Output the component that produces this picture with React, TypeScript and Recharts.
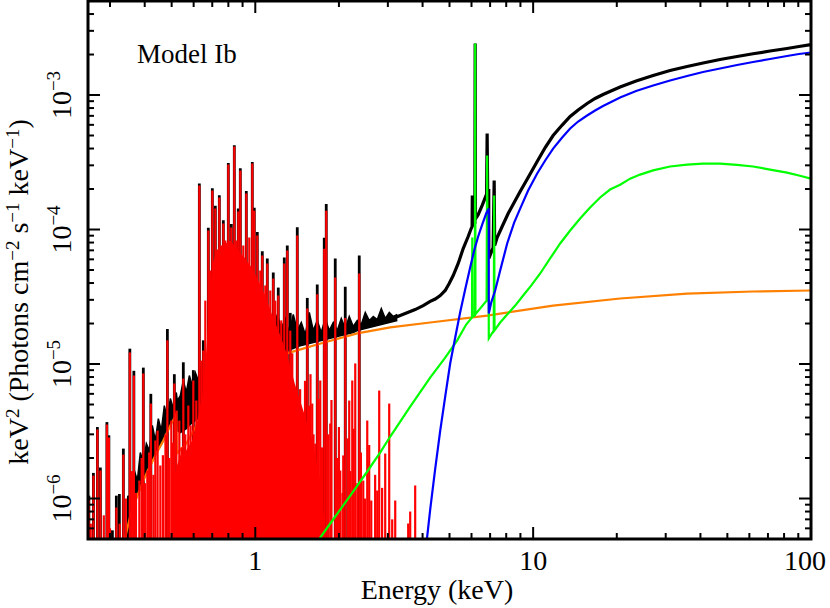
import React from "react";
import { ComposedChart, Line, Area, Scatter, XAxis, YAxis, ReferenceArea } from "recharts";

const W = 830;
const H = 608;
const PLOT_LEFT = 88;
const PLOT_TOP = 1;
const PLOT_RIGHT = 811;
const PLOT_BOTTOM = 539;
const SERIF = "'Liberation Serif', 'Times New Roman', Times, serif";

const X_DOMAIN = [0.25, 100];
const Y_DOMAIN = [5e-7, 5e-3];

const xMajor = [1, 10, 100];
const xMajorLabels = ["1", "10", "100"];
const xMinor = [0.3, 0.4, 0.5, 0.6, 0.7, 0.8, 0.9, 2, 3, 4, 5, 6, 7, 8, 9, 20, 30, 40, 50, 60, 70, 80, 90];
const yMajor = [1e-6, 1e-5, 1e-4, 1e-3];
const yMajorExp = ["\u22126", "\u22125", "\u22124", "\u22123"];
const yMinor = [
  6e-7, 7e-7, 8e-7, 9e-7, 2e-6, 3e-6, 4e-6, 5e-6, 6e-6, 7e-6, 8e-6, 9e-6,
  2e-5, 3e-5, 4e-5, 5e-5, 6e-5, 7e-5, 8e-5, 9e-5, 2e-4, 3e-4, 4e-4, 5e-4,
  6e-4, 7e-4, 8e-4, 9e-4, 2e-3, 3e-3, 4e-3,
];

// total model, continuum above ~3 keV (with the Fe K features)
const blackCurve: [number, number][] = [
  [3.0362, 2.16e-5], [3.1385, 2.18e-5], [3.189, 2.22e-5], [3.463, 2.37e-5], [3.762, 2.54e-5],
  [4.021, 2.72e-5], [4.26, 2.92e-5], [4.442, 3.04e-5], [4.63, 3.23e-5], [4.825, 3.52e-5],
  [4.987, 3.97e-5], [5.156, 4.55e-5], [5.373, 5.59e-5], [5.601, 7.22e-5], [5.837, 8.87e-5],
  [5.984, 1.017e-4], [6.03, 1.05e-4], [6.04, 1.79e-4], [6.055, 1.07e-4], [6.17, 1.12e-4],
  [6.186, 2.415e-3], [6.2, 1.2e-4], [6.341, 1.29e-4], [6.555, 1.51e-4], [6.8, 1.83e-4],
  [6.83, 5.17e-4], [6.86, 1.95e-4], [6.92, 1.95e-4], [6.925, 6.09e-5], [7.18, 7.35e-5],
  [7.24, 2.31e-4], [7.27, 7.6e-5], [7.42, 8.72e-5], [7.735, 1.053e-4], [8.13, 1.315e-4],
  [8.544, 1.588e-4], [8.98, 1.916e-4], [9.594, 2.435e-4], [10.34, 3.2e-4], [11.05, 4.07e-4],
  [11.8, 5.0e-4], [12.72, 5.98e-4], [13.59, 6.92e-4], [14.52, 7.74e-4], [15.64, 8.65e-4],
  [16.71, 9.42e-4], [17.85, 1.0085e-3], [19.24, 1.08e-3], [20.56, 1.147e-3], [23.47, 1.271e-3],
  [27.03, 1.396e-3], [31.1, 1.521e-3], [35.81, 1.629e-3], [40.88, 1.729e-3], [47.07, 1.836e-3],
  [54.19, 1.933e-3], [61.86, 2.025e-3], [71.23, 2.123e-3], [81.97, 2.217e-3], [90.5, 2.294e-3],
  [100, 2.373e-3],
];

// total model, band of weak lines below ~3 keV: [E, low, high]
const blackBand: [number, number, number][] = [
  [0.3493, 6.3e-7, 1.05e-6], [0.3581, 7.87e-7, 8.87e-7], [0.367, 9.18e-7, 1.615e-6],
  [0.3763, 1.05e-6, 1.36e-6], [0.3857, 1.186e-6, 2.2e-6], [0.3954, 1.36e-6, 1.85e-6],
  [0.4054, 1.535e-6, 2.56e-6], [0.4156, 1.7e-6, 2.28e-6], [0.4261, 1.88e-6, 3.49e-6],
  [0.4368, 2.09e-6, 2.7e-6], [0.4478, 2.31e-6, 3.93e-6], [0.4591, 2.52e-6, 3.2e-6],
  [0.4706, 2.79e-6, 4.91e-6], [0.4826, 3.15e-6, 3.93e-6], [0.4946, 3.49e-6, 5.54e-6],
  [0.507, 3.87e-6, 4.67e-6], [0.5197, 4.21e-6, 6.14e-6], [0.524, 3.2e-6, 5.35e-6],
  [0.5373, 3.09e-6, 5.83e-6], [0.5508, 3.2e-6, 7.54e-6], [0.5647, 3.31e-6, 6.14e-6],
  [0.5789, 3.49e-6, 8.21e-6], [0.5935, 3.67e-6, 6.92e-6], [0.6084, 3.8e-6, 8.65e-6],
  [0.6237, 3.93e-6, 7.54e-6], [0.6395, 4.21e-6, 9.75e-6], [0.661, 4.67e-6, 8.21e-6],
  [0.689, 5.08e-6, 1.156e-5], [0.7181, 5.63e-6, 1.026e-5], [0.7484, 6.35e-6, 1.259e-5],
  [0.7997, 7.29e-6, 1.156e-5], [0.8471, 8.21e-6, 1.372e-5], [0.9205, 9.1e-6, 1.495e-5],
  [1.0, 1.062e-5, 1.629e-5], [1.0597, 1.117e-5, 1.774e-5], [1.1137, 1.156e-5, 2.035e-5],
  [1.1607, 1.176e-5, 1.714e-5], [1.1997, 1.217e-5, 2.333e-5], [1.2403, 1.238e-5, 1.836e-5],
  [1.2823, 1.259e-5, 2.18e-5], [1.3253, 1.281e-5, 1.714e-5], [1.37, 1.303e-5, 2.333e-5],
  [1.4162, 1.349e-5, 1.774e-5], [1.4641, 1.372e-5, 2.035e-5], [1.5136, 1.396e-5, 1.657e-5],
  [1.5647, 1.42e-5, 2.415e-5], [1.617, 1.445e-5, 1.774e-5], [1.6711, 1.47e-5, 2.106e-5],
  [1.7274, 1.495e-5, 1.714e-5], [1.7857, 1.521e-5, 2.18e-5], [1.846, 1.547e-5, 1.774e-5],
  [1.9083, 1.574e-5, 2.035e-5], [1.9727, 1.601e-5, 1.774e-5], [2.0393, 1.629e-5, 2.18e-5],
  [2.1077, 1.657e-5, 1.836e-5], [2.1788, 1.685e-5, 2.255e-5], [2.2522, 1.714e-5, 1.9e-5],
  [2.3283, 1.774e-5, 2.106e-5], [2.4068, 1.805e-5, 1.966e-5], [2.488, 1.836e-5, 2.415e-5],
  [2.5719, 1.868e-5, 2.106e-5], [2.6587, 1.9e-5, 2.255e-5], [2.7484, 1.933e-5, 2.143e-5],
  [2.8412, 1.966e-5, 2.585e-5], [2.937, 2.0e-5, 2.18e-5], [3.0362, 2.035e-5, 2.415e-5],
  [3.1385, 2.07e-5, 2.255e-5], [3.2444, 2.106e-5, 2.333e-5],
];

// total model, tops of the strong lines
const blackPeaks: [number, number][] = [
  [0.2518, 1.05e-6], [0.2615, 1.55e-6], [0.2702, 3.4e-6], [0.277, 1.7e-6], [0.2924, 3.7e-6],
  [0.2972, 2.95e-6], [0.306, 5.8e-7], [0.3162, 1.05e-6], [0.3242, 1.08e-6], [0.3351, 2.35e-6],
  [0.3493, 1.05e-6], [0.3536, 1.3e-5], [0.3656, 8.9e-6], [0.3954, 9.4e-6], [0.4208, 6.0e-6],
  [0.4826, 1.82e-5], [0.5113, 8.4e-6], [0.5508, 1.03e-5], [0.5984, 9.0e-6], [0.629, 2.2e-4],
  [0.6501, 1.5e-5], [0.6776, 1.03e-4], [0.7005, 2.03e-4], [0.7181, 1.5e-4], [0.7423, 1.8e-4],
  [0.7673, 1.17e-4], [0.7997, 3.12e-4], [0.8199, 1.1e-4], [0.8404, 4.24e-4], [0.8686, 1.43e-4],
  [0.8832, 2.85e-4], [0.9282, 1.93e-4], [0.9754, 3.18e-4], [0.9917, 1.45e-4], [1.0167, 9.6e-5],
  [1.0597, 6.9e-5], [1.1046, 6.1e-5], [1.1607, 4.8e-5], [1.2099, 3.7e-5], [1.2716, 6.2e-5],
  [1.3036, 7.6e-5], [1.3364, 2.4e-5], [1.4162, 1.04e-4], [1.5387, 3.1e-5], [1.6711, 3.9e-5],
  [1.7709, 8.7e-5], [1.8005, 1.55e-4], [1.9399, 6.1e-5], [2.1077, 3.75e-5], [2.3667, 6.4e-5],
];

// thermal plasma: emission lines
const redPeaks: [number, number][] = [
  [0.2518, 9.66e-7], [0.2557, 6.5e-7], [0.2615, 1.48e-6], [0.2702, 3.26e-6], [0.277, 1.615e-6],
  [0.285, 7.5e-7], [0.2924, 3.55e-6], [0.2972, 2.84e-6], [0.3, 6e-7], [0.3162, 8.57e-7],
  [0.325, 6.5e-7], [0.3351, 2.12e-6], [0.342, 1.0e-6], [0.3536, 1.22e-5], [0.36, 1.6e-6],
  [0.3656, 8.21e-6], [0.372, 1.1e-6], [0.3826, 1.36e-6], [0.39, 2.0e-6], [0.3954, 8.5e-6],
  [0.401, 1.3e-6], [0.4088, 1.615e-6], [0.415, 2.2e-6], [0.4208, 5.08e-6], [0.43, 1.5e-6],
  [0.4368, 2.7e-6], [0.445, 3.2e-6], [0.4553, 1.76e-6], [0.465, 2.1e-6], [0.475, 3.0e-6],
  [0.4826, 1.5e-5], [0.49, 2.0e-6], [0.4987, 3.8e-6], [0.505, 2.6e-6], [0.5113, 7.16e-6],
  [0.52, 4.5e-6], [0.5329, 3.8e-6], [0.543, 2.4e-6], [0.5508, 7.8e-6], [0.56, 3.0e-6],
  [0.5741, 4.91e-6], [0.585, 3.5e-6], [0.5984, 7.54e-6], [0.605, 2.8e-6], [0.6135, 5.35e-6],
  [0.629, 2.12e-4], [0.6395, 1.06e-5], [0.6501, 1.26e-5], [0.661, 2.96e-5], [0.6776, 9.83e-5],
  [0.689, 4.96e-5], [0.7005, 1.95e-4], [0.7181, 1.43e-4], [0.7301, 6.41e-5], [0.7423, 1.73e-4],
  [0.7547, 7.6e-5], [0.7673, 1.108e-4], [0.7801, 8.28e-5], [0.7997, 3.04e-4], [0.8199, 1.035e-4],
  [0.8404, 4.14e-4], [0.8545, 8.28e-5], [0.8686, 1.36e-4], [0.8832, 2.75e-4], [0.9054, 7.6e-5],
  [0.9282, 1.85e-4], [0.9515, 8.72e-5], [0.9754, 3.09e-4], [0.9917, 1.38e-4], [1.0167, 9.03e-5],
  [1.0423, 4.96e-5], [1.0597, 6.41e-5], [1.0864, 3.83e-5], [1.1046, 5.59e-5], [1.1324, 3.52e-5],
  [1.1607, 4.32e-5], [1.1802, 2.96e-5], [1.2099, 3.23e-5], [1.2403, 2.11e-5], [1.2716, 5.59e-5],
  [1.3036, 6.98e-5], [1.3364, 1.77e-5], [1.3587, 1.2e-5], [1.38, 7.0e-6], [1.4162, 9.03e-5],
  [1.428, 4.75e-6], [1.45, 6.5e-6], [1.47, 3.8e-6], [1.4884, 3.94e-6], [1.51, 7.5e-6],
  [1.5387, 2.59e-5], [1.56, 4.9e-6], [1.58, 8.4e-6], [1.603, 5.08e-6], [1.62, 3.0e-6],
  [1.6436, 2.56e-6], [1.6711, 3.3e-5], [1.69, 5.5e-6], [1.7132, 7.54e-6], [1.74, 2.4e-6],
  [1.7709, 7.2e-5], [1.8005, 1.38e-4], [1.83, 3.0e-6], [1.8612, 3.61e-6], [1.88, 5.4e-6],
  [1.9399, 4.4e-5], [1.97, 2.0e-6], [2.0, 3.4e-6], [2.0219, 1.615e-6], [2.06, 1.1e-6],
  [2.073, 2.09e-6], [2.1077, 2.2e-5], [2.15, 2.8e-6], [2.178, 5.35e-6], [2.2, 1.6e-6],
  [2.2336, 7.54e-6], [2.26, 3.3e-6], [2.2896, 1.01e-5], [2.33, 1.3e-6], [2.3667, 4.71e-5],
  [2.4, 2.2e-6], [2.4465, 1.36e-6], [2.48, 1.0e-6], [2.5289, 3.8e-6], [2.57, 2.5e-6],
  [2.6144, 9.66e-7], [2.7, 1.5e-6], [2.747, 1.147e-6], [2.7925, 6.35e-6], [2.86, 1.2e-6],
  [2.935, 2.16e-6], [3.0339, 5.08e-6], [3.11, 7e-7], [3.1887, 9.66e-7], [3.5506, 6.52e-7],
  [3.61, 8e-7], [3.7624, 1.25e-6],
];

// thermal plasma: blended line forest around 1 keV (upper edge)
const redFill: [number, number][] = [
  [0.5029, 4.87e-7], [0.5155, 1.615e-6], [0.5373, 2.09e-6], [0.5647, 2.28e-6], [0.5935, 2.7e-6],
  [0.6186, 3.8e-6], [0.6448, 5.83e-6], [0.6666, 1.26e-5], [0.6832, 2.96e-5], [0.7005, 5.4e-5],
  [0.7241, 6.98e-5], [0.7609, 7.6e-5], [0.813, 8.28e-5], [0.8686, 6.98e-5], [0.9205, 6.1e-5],
  [0.9754, 5.13e-5], [1.025, 4.18e-5], [1.0864, 3.23e-5], [1.151, 2.29e-5], [1.23, 1.63e-5],
  [1.3036, 1.16e-5], [1.393, 6.92e-6], [1.4884, 4.51e-6], [1.603, 2.7e-6], [1.7132, 1.36e-6],
  [1.8005, 4.87e-7],
];

const orangeCurve: [number, number][] = [
  [0.3351, 4.47e-7], [0.3551, 7.47e-7], [0.3763, 1.05e-6], [0.4054, 1.53e-6], [0.4368, 2.09e-6],
  [0.4667, 2.7e-6], [0.4946, 3.49e-6], [0.5197, 4.21e-6], [0.5219, 2.16e-6], [0.5646, 2.56e-6],
  [0.629, 3.8e-6], [0.6832, 4.91e-6], [0.7484, 6.35e-6], [0.8471, 8.21e-6], [1.0, 9.9e-6],
  [1.1802, 1.12e-5], [1.3364, 1.22e-5], [1.756, 1.44e-5], [2.328, 1.69e-5], [3.06, 1.87e-5],
  [4.2605, 2.035e-5], [6.8345, 2.29e-5], [11.8, 2.72e-5], [20.56, 3.07e-5], [35.81, 3.34e-5],
  [61.86, 3.46e-5], [100, 3.52e-5],
];

const greenCurve: [number, number][] = [
  [1.657, 4.47e-7], [1.7132, 5.13e-7], [1.8612, 6.52e-7], [2.0219, 8.28e-7], [2.2896, 1.186e-6],
  [2.5289, 1.588e-6], [2.817, 2.2e-6], [3.06, 2.89e-6], [3.61, 4.83e-6], [4.26, 7.93e-6],
  [4.825, 1.117e-5], [5.33, 1.5e-5], [5.741, 1.966e-5], [6.025, 2.22e-5], [6.04, 8.72e-5],
  [6.055, 2.24e-5], [6.17, 2.3e-5], [6.186, 2.415e-3], [6.2, 2.35e-5], [6.8, 2.96e-5],
  [6.83, 3.55e-4], [6.86, 2.96e-5], [6.92, 2.96e-5], [6.925, 1.55e-5], [7.216, 1.774e-5],
  [7.24, 1.79e-4], [7.26, 1.78e-5], [7.61, 2.035e-5], [8.064, 2.33e-5], [8.617, 2.72e-5],
  [9.205, 3.23e-5], [9.835, 3.83e-5], [10.6, 4.71e-5], [11.51, 6.09e-5], [12.51, 7.87e-5],
  [13.59, 9.83e-5], [14.76, 1.207e-4], [16.03, 1.457e-4], [17.42, 1.73e-4], [18.92, 1.983e-4],
  [20.56, 2.15e-4], [22.34, 2.39e-4], [24.26, 2.56e-4], [27.03, 2.75e-4], [31.1, 2.94e-4],
  [35.81, 3.04e-4], [40.88, 3.09e-4], [47.07, 3.09e-4], [54.19, 3.02e-4], [61.86, 2.94e-4],
  [71.23, 2.79e-4], [81.97, 2.65e-4], [90.5, 2.52e-4], [100, 2.39e-4],
];

const blueCurve: [number, number][] = [
  [4.122, 4.47e-7], [4.2605, 8.28e-7], [4.442, 1.671e-6], [4.63, 3.2e-6], [4.825, 5.73e-6],
  [5.028, 1.0085e-5], [5.243, 1.574e-5], [5.46, 2.415e-5], [5.693, 3.58e-5], [5.934, 5.22e-5],
  [6.134, 6.98e-5], [6.341, 8.87e-5], [6.555, 1.089e-4], [6.776, 1.315e-4], [6.92, 1.432e-4],
  [6.925, 2.37e-5], [7.064, 2.87e-5], [7.3, 3.52e-5], [7.61, 4.96e-5], [8.064, 7.87e-5],
  [8.544, 1.127e-4], [8.98, 1.43e-4], [9.594, 1.95e-4], [10.34, 2.61e-4], [11.05, 3.26e-4],
  [11.8, 4.0e-4], [12.72, 4.83e-4], [13.59, 5.64e-4], [14.52, 6.35e-4], [15.64, 7.04e-4],
  [16.71, 7.67e-4], [17.85, 8.28e-4], [19.24, 8.95e-4], [20.56, 9.58e-4], [23.47, 1.071e-3],
  [27.03, 1.177e-3], [31.1, 1.282e-3], [35.81, 1.384e-3], [40.88, 1.483e-3], [47.07, 1.574e-3],
  [54.19, 1.671e-3], [61.86, 1.759e-3], [71.23, 1.852e-3], [81.97, 1.95e-3], [90.5, 2.018e-3],
  [100, 2.07e-3],
];

const pts = (arr: [number, number][]) => arr.map(([x, y]) => ({ x, y }));
const bandPts = blackBand.map(([x, lo, hi]) => ({ x, r: [lo, hi] }));

const spikeShape = (color: string, width: number) => (props: any) => {
  const cx = props.cx ?? (props.x ?? 0) + (props.width ?? 0) / 2;
  const cy = props.cy ?? (props.y ?? 0) + (props.height ?? 0) / 2;
  return <line x1={cx} x2={cx} y1={cy} y2={PLOT_BOTTOM + 4} stroke={color} strokeWidth={width} />;
};

function XTick(props: any) {
  const { x, payload } = props;
  const idx = xMajor.indexOf(payload.value);
  const len = idx >= 0 ? 12 : 6;
  // the last label is pulled in so it stays inside the picture
  const labelX = idx === xMajor.length - 1 ? x - 6 : x;
  return (
    <g>
      <line x1={x} x2={x} y1={PLOT_BOTTOM} y2={PLOT_BOTTOM - len} stroke="#000" strokeWidth={2} />
      <line x1={x} x2={x} y1={PLOT_TOP} y2={PLOT_TOP + len} stroke="#000" strokeWidth={2} />
      {idx >= 0 && (
        <text x={labelX} y={570} textAnchor="middle" fontFamily={SERIF} fontSize={28} fill="#000">
          {xMajorLabels[idx]}
        </text>
      )}
    </g>
  );
}

function YTick(props: any) {
  const { y, payload } = props;
  const idx = yMajor.indexOf(payload.value);
  const len = idx >= 0 ? 12 : 6;
  return (
    <g>
      <line x1={PLOT_LEFT} x2={PLOT_LEFT + len} y1={y} y2={y} stroke="#000" strokeWidth={2} />
      <line x1={PLOT_RIGHT} x2={PLOT_RIGHT - len} y1={y} y2={y} stroke="#000" strokeWidth={2} />
      {idx >= 0 && (
        <text
          transform={`translate(71,${y}) rotate(-90)`}
          textAnchor="middle"
          fontFamily={SERIF}
          fontSize={28}
          fill="#000"
        >
          10
          <tspan dy={-11} fontSize={19}>
            {yMajorExp[idx]}
          </tspan>
        </text>
      )}
    </g>
  );
}

export default function App() {
  return (
    <div style={{ position: "absolute", left: 0, top: 0, width: W, height: H, background: "#fff" }}>
      <ComposedChart width={W} height={H} margin={{ top: PLOT_TOP, right: W - PLOT_RIGHT, bottom: 39, left: 0 }}>
        <XAxis
          dataKey="x"
          type="number"
          scale="log"
          domain={X_DOMAIN}
          allowDataOverflow
          ticks={[...xMinor, ...xMajor]}
          interval={0}
          height={30}
          tickSize={0}
          tickMargin={0}
          tickLine={false}
          axisLine={false}
          tick={(p: any) => <XTick {...p} />}
        />
        <YAxis
          dataKey="y"
          type="number"
          scale="log"
          domain={Y_DOMAIN}
          allowDataOverflow
          ticks={[...yMinor, ...yMajor]}
          interval={0}
          width={PLOT_LEFT}
          tickSize={0}
          tickMargin={0}
          tickLine={false}
          axisLine={false}
          tick={(p: any) => <YTick {...p} />}
        />
        <Area
          data={bandPts}
          dataKey="r"
          type="linear"
          stroke="#000"
          strokeWidth={1.5}
          fill="#000"
          fillOpacity={1}
          isAnimationActive={false}
          zIndex={10}
        />
        <Line data={pts(blackCurve)} dataKey="y" type="linear" stroke="#000" strokeWidth={3.2} dot={false} isAnimationActive={false} zIndex={11} />
        <Scatter data={pts(blackPeaks)} dataKey="y" shape={spikeShape("#000", 2.8)} isAnimationActive={false} zIndex={12} />
        <Line data={pts(orangeCurve)} dataKey="y" type="linear" stroke="#ff8000" strokeWidth={2.2} dot={false} isAnimationActive={false} zIndex={13} />
        <Area
          data={pts(redFill)}
          dataKey="y"
          type="linear"
          baseValue={Y_DOMAIN[0]}
          stroke="none"
          fill="#ff0000"
          fillOpacity={1}
          isAnimationActive={false}
          zIndex={14}
        />
        <Scatter data={pts(redPeaks)} dataKey="y" shape={spikeShape("#ff0000", 2.2)} isAnimationActive={false} zIndex={15} />
        <Line data={pts(greenCurve)} dataKey="y" type="linear" stroke="#00ff00" strokeWidth={2.2} dot={false} isAnimationActive={false} zIndex={16} />
        <Line data={pts(blueCurve)} dataKey="y" type="linear" stroke="#0000ff" strokeWidth={2.2} dot={false} isAnimationActive={false} zIndex={17} />
        <ReferenceArea
          x1={X_DOMAIN[0]}
          x2={X_DOMAIN[1]}
          y1={Y_DOMAIN[0]}
          y2={Y_DOMAIN[1]}
          fill="none"
          stroke="#000"
          strokeWidth={3}
          ifOverflow="visible"
          zIndex={20}
        />
      </ComposedChart>
      <svg width={W} height={H} style={{ position: "absolute", left: 0, top: 0, pointerEvents: "none" }}>
        <text x={137} y={63} fontFamily={SERIF} fontSize={27} fill="#000">
          Model Ib
        </text>
        <text x={437} y={599} textAnchor="middle" fontFamily={SERIF} fontSize={28} fill="#000">
          Energy (keV)
        </text>
        <text transform="translate(28,292) rotate(-90)" textAnchor="middle" fontFamily={SERIF} fontSize={28} fill="#000">
          keV
          <tspan dy={-9} fontSize={19}>2</tspan>
          <tspan dy={9}> (Photons cm</tspan>
          <tspan dy={-9} fontSize={19}>{"\u22122"}</tspan>
          <tspan dy={9}> s</tspan>
          <tspan dy={-9} fontSize={19}>{"\u22121"}</tspan>
          <tspan dy={9}> keV</tspan>
          <tspan dy={-9} fontSize={19}>{"\u22121"}</tspan>
          <tspan dy={9}>)</tspan>
        </text>
      </svg>
    </div>
  );
}
